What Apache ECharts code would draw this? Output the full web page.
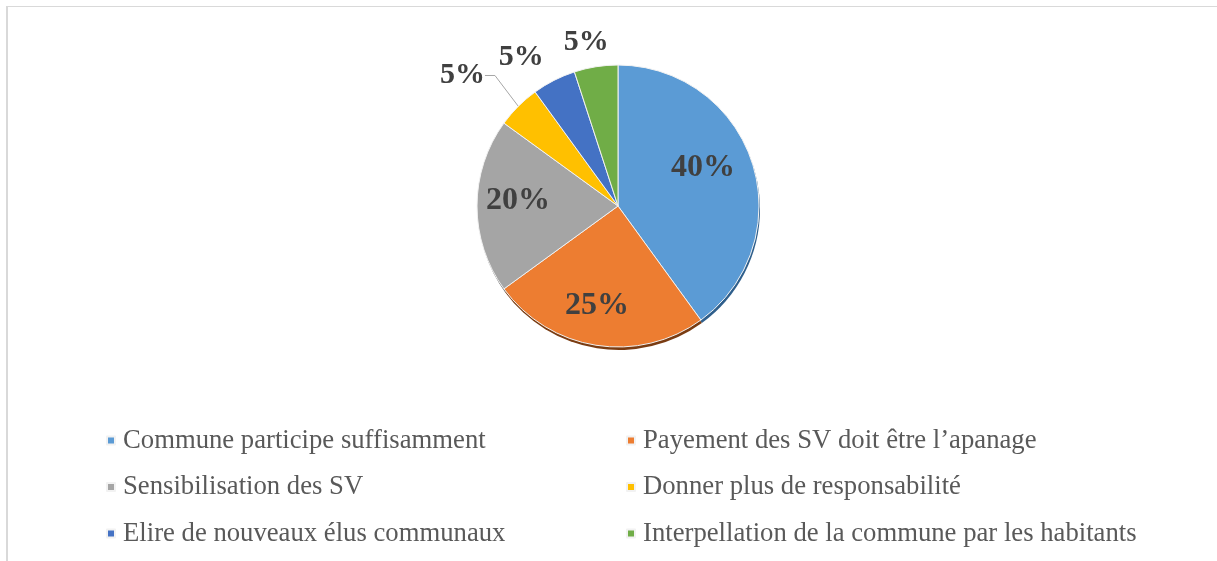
<!DOCTYPE html>
<html>
<head>
<meta charset="utf-8">
<script src="https://cdn.jsdelivr.net/npm/echarts@6/dist/echarts.min.js"></script>
<style>
  html, body { margin: 0; padding: 0; background: #fff; }
  #frame { position: absolute; left: 6px; top: 6px; width: 1300px; height: 600px;
           border-left: 2px solid #d9d9d9; border-top: 1px solid #d9d9d9; }
  #chart { position: absolute; left: 0; top: 0; width: 1217px; height: 561px; }
</style>
</head>
<body>
<div id="frame"></div>
<div id="chart"></div>
<script>
const categories = [
  'Commune participe suffisamment',
  'Payement des SV doit être l’apanage',
  'Sensibilisation des SV',
  'Donner plus de responsabilité',
  'Elire de nouveaux élus communaux',
  'Interpellation de la commune par les habitants'
]
const values = [40, 25, 20, 5, 5, 5]
const labels = ['40%', '25%', '20%', '5%', '5%', '5%']

const colors = ['#5b9bd5', '#ed7d31', '#a5a5a5', '#ffc000', '#4472c4', '#70ad47']
const edgeColors = ['#2f5f8c', '#7a3c12', '#5f5f5f', '#9a7400', '#2a4a82', '#3f6a25']

// label placement: radial factor and angular nudge (deg) per slice
const labelRadius = [0.66, 0.72, 0.71, 1.44, 1.26, 1.18]
const labelNudge = [-6, 3, 3, -5, -6, -2]

const cx = 618, cy = 206, r = 141
const total = values.reduce((a, b) => a + b, 0)
const midAngles = []
let acc = 0
values.forEach(v => { midAngles.push((acc + v / 2) / total * 360); acc += v })

const chart = echarts.init(document.getElementById('chart'))

function legendFor(idx, left) {
  return {
    orient: 'vertical',
    left: left,
    top: 422,
    icon: 'rect',
    itemWidth: 8,
    itemHeight: 8,
    itemGap: 19.5,
    selectedMode: false,
    data: idx.map(i => categories[i]),
    textStyle: {
      fontFamily: '"Liberation Serif", "Times New Roman", serif',
      fontSize: 26.7,
      lineHeight: 26,
      color: '#595959',
      padding: [0, 0, 0, 3]
    }
  }
}

chart.setOption({
  backgroundColor: 'transparent',
  animation: false,
  color: colors,
  legend: [legendFor([0, 2, 4], 101), legendFor([1, 3, 5], 621)],
  series: [
    {
      name: 'edge',
      type: 'pie',
      silent: true,
      z: 1,
      center: [cx + 1, cy + 3],
      radius: r,
      label: { show: false },
      labelLine: { show: false },
      data: values.map((v, i) => ({ name: 'edge' + i, value: v, itemStyle: { color: edgeColors[i] } }))
    },
    {
      name: 'main',
      type: 'pie',
      z: 2,
      center: [cx, cy],
      radius: r,
      itemStyle: { borderColor: '#f2f2f2', borderWidth: 1 },
      label: {
        show: true,
        fontFamily: '"Liberation Serif", "Times New Roman", serif',
        fontWeight: 'bold',
        color: '#404040'
      },
      labelLine: { show: false },
      data: values.map((v, i) => ({
        name: categories[i],
        value: v,
        label: {
          position: i < 3 ? 'inside' : 'outside',
          fontSize: i < 3 ? 32 : 30,
          formatter: labels[i]
        },
        labelLine: {
          show: i === 3,
          length: 10,
          length2: 10,
          lineStyle: { color: '#a6a6a6', width: 1 }
        }
      })),
      labelLayout: function (params) {
        const i = params.dataIndex
        const a = (midAngles[i] + labelNudge[i]) * Math.PI / 180
        const d = r * labelRadius[i]
        return {
          x: cx + d * Math.sin(a),
          y: cy - d * Math.cos(a),
          align: 'center',
          verticalAlign: 'middle'
        }
      }
    }
  ]
})
</script>
</body>
</html>
